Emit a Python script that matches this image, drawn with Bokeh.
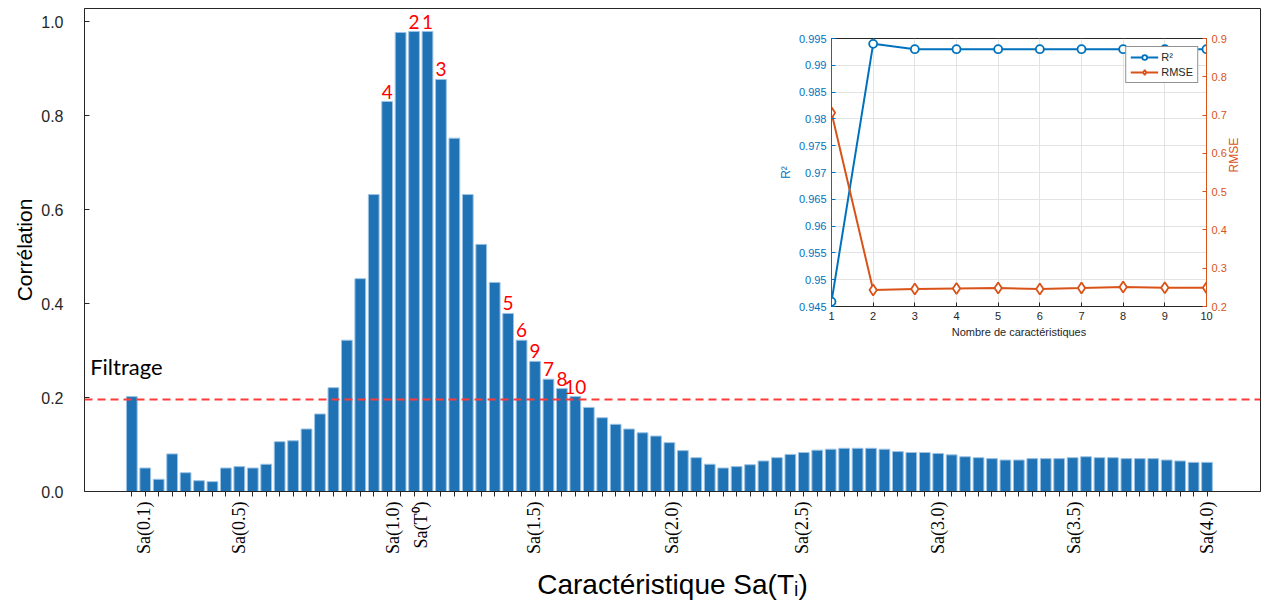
import math
from bokeh.plotting import figure
from bokeh.models import (Range1d, LinearAxis, FixedTicker, Span, Label,
                          CustomJSTickFormatter, PrintfTickFormatter, Legend, LegendItem)
from bokeh.core.properties import value
from bokeh.embed import file_html
from bokeh.resources import INLINE

# ---------------- data ----------------
correlation = [
    0.202, 0.050, 0.026, 0.080, 0.040, 0.023, 0.021, 0.050, 0.053, 0.050,
    0.058, 0.106, 0.108, 0.133, 0.165, 0.221, 0.322, 0.453, 0.632, 0.830,
    0.977, 0.979, 0.979, 0.877, 0.752, 0.632, 0.526, 0.445, 0.379, 0.322,
    0.277, 0.239, 0.219, 0.202, 0.179, 0.157, 0.143, 0.133, 0.125, 0.118,
    0.104, 0.087, 0.072, 0.058, 0.050, 0.053, 0.057, 0.065, 0.072, 0.079,
    0.083, 0.088, 0.090, 0.092, 0.092, 0.092, 0.090, 0.085, 0.083, 0.083,
    0.081, 0.078, 0.074, 0.072, 0.070, 0.067, 0.067, 0.070, 0.070, 0.070,
    0.072, 0.074, 0.072, 0.072, 0.070, 0.070, 0.070, 0.067, 0.065, 0.062,
    0.062,
]
tick_labels = ["Sa(0.1)", "Sa(0.5)", "Sa(1.0)", "Sa(T\u2070)", "Sa(1.5)",
               "Sa(2.0)", "Sa(2.5)", "Sa(3.0)", "Sa(3.5)", "Sa(4.0)"]
tick_label_bars = [0.9, 8.0, 19.4, 21.5, 29.9, 40.2, 49.9, 60.0, 70.1, 80.0]
rank_labels = ["4", "2", "1", "3", "5", "6", "9", "7", "8", "10"]
rank_bars = [19, 21, 22, 23, 28, 29, 30, 31, 32, 33]
threshold = 0.196

n_features = [1, 2, 3, 4, 5, 6, 7, 8, 9, 10]
r2 = [0.9459, 0.9940, 0.9930, 0.9930, 0.9930, 0.9930, 0.9930, 0.9930, 0.9930, 0.9930]
rmse = [0.706, 0.243, 0.246, 0.247, 0.248, 0.246, 0.248, 0.251, 0.249, 0.249]

DARK = "#262626"
BAR = "#1f73b4"
BLUE = "#0072BD"
ORANGE = "#D95319"

# ---------------- main figure ----------------
bar_x = list(range(len(correlation)))
p = figure(width=1255, height=600, x_range=Range1d(-3.52, 83.98), y_range=Range1d(0, 1.028),
           output_backend="svg", toolbar_location=None,
           min_border_left=76, min_border_right=3, min_border_top=0, min_border_bottom=117)
p.xgrid.visible = False
p.ygrid.visible = False
p.outline_line_color = DARK
p.background_fill_color = "white"
p.border_fill_color = "white"

p.vbar(x=bar_x, top=correlation, width=0.8, fill_color=BAR, line_color="#9cc3e4", line_width=1)

p.add_layout(Span(location=threshold, dimension="width", line_color="#ff3a3a",
                  line_dash="8 5", line_width=2))
p.add_layout(Label(x=-3.1, y=0.266, text="Filtrage", text_font="Lato", text_font_size="22px",
                   text_color="black", text_baseline="alphabetic"))

p.text(x=rank_bars, y=[correlation[i] for i in rank_bars], text=rank_labels,
       text_align="center", text_baseline="bottom", y_offset=-3,
       text_color="#ff0000", text_font=value("Lato"), text_font_size="19px")

fmt = CustomJSTickFormatter(args=dict(pos=tick_label_bars, labels=tick_labels), code="""
const i = pos.findIndex(v => Math.abs(v - tick) < 1e-6);
return i >= 0 ? labels[i] : "";
""")
xa = p.xaxis[0]
xa.ticker = FixedTicker(ticks=tick_label_bars, minor_ticks=bar_x)
xa.formatter = fmt
xa.major_tick_out = 0
xa.major_tick_in = 0
xa.minor_tick_out = 5
xa.minor_tick_in = 0
xa.minor_tick_line_color = DARK
xa.axis_line_color = DARK
xa.major_label_orientation = math.pi / 2
xa.major_label_text_font = "Liberation Serif"
xa.major_label_text_font_size = "18px"
xa.major_label_text_color = "black"
xa.major_label_standoff = 5
xa.axis_label = "Caractéristique Sa(T\u1d62)"
xa.axis_label_text_font = "Liberation Sans"
xa.axis_label_text_font_size = "28px"
xa.axis_label_text_font_style = "normal"
xa.axis_label_text_color = "black"
xa.axis_label_standoff = 12

ya = p.yaxis[0]
ya.ticker = FixedTicker(ticks=[0, 0.2, 0.4, 0.6, 0.8, 1.0])
ya.formatter = PrintfTickFormatter(format="%.1f")
ya.major_tick_out = 0
ya.major_tick_in = 5
ya.minor_tick_out = 0
ya.minor_tick_in = 0
ya.axis_line_color = DARK
ya.major_tick_line_color = DARK
ya.major_label_text_font = "Liberation Sans"
ya.major_label_text_font_size = "16px"
ya.major_label_text_color = DARK
ya.major_label_standoff = 21
ya.axis_label = "Corrélation"
ya.axis_label_text_font = "Liberation Sans"
ya.axis_label_text_font_size = "21px"
ya.axis_label_text_font_style = "normal"
ya.axis_label_text_color = "black"
ya.axis_label_standoff = 2

p.styles = {"position": "absolute", "left": "8px", "top": "8px"}

# ---------------- inset figure ----------------
q = figure(width=475, height=315, x_range=Range1d(1, 10), y_range=Range1d(0.945, 0.995),
           output_backend="svg", toolbar_location=None,
           min_border_left=54, min_border_right=43, min_border_top=8, min_border_bottom=39)
q.extra_y_ranges = {"rmse": Range1d(0.2, 0.9)}
q.outline_line_color = DARK
q.background_fill_color = "white"
q.border_fill_color = "white"

num_fmt = CustomJSTickFormatter(code="return parseFloat(tick.toFixed(4)).toString();")

qx = q.xaxis[0]
qx.ticker = FixedTicker(ticks=n_features)
qx.major_tick_in = 4
qx.major_tick_out = 0
qx.minor_tick_in = 0
qx.minor_tick_out = 0
qx.axis_line_color = DARK
qx.major_tick_line_color = DARK
qx.major_label_text_font = "Liberation Sans"
qx.major_label_text_font_size = "11px"
qx.major_label_text_color = DARK
qx.major_label_standoff = 5
qx.axis_label = "Nombre de caractéristiques"
qx.axis_label_text_font = "Liberation Sans"
qx.axis_label_text_font_size = "11px"
qx.axis_label_text_font_style = "normal"
qx.axis_label_text_color = DARK
qx.axis_label_standoff = 3

qy = q.yaxis[0]
qy.ticker = FixedTicker(ticks=[0.945, 0.95, 0.955, 0.96, 0.965, 0.97, 0.975, 0.98, 0.985, 0.99, 0.995])
qy.formatter = num_fmt
qy.major_tick_in = 4
qy.major_tick_out = 0
qy.minor_tick_in = 0
qy.minor_tick_out = 0
qy.axis_line_color = BLUE
qy.major_tick_line_color = BLUE
qy.major_label_text_font = "Liberation Sans"
qy.major_label_text_font_size = "11px"
qy.major_label_text_color = BLUE
qy.major_label_standoff = 5
qy.axis_label = "R\u00b2"
qy.axis_label_text_font = "Liberation Sans"
qy.axis_label_text_font_size = "12px"
qy.axis_label_text_font_style = "normal"
qy.axis_label_text_color = BLUE
qy.axis_label_standoff = 3

qr = LinearAxis(y_range_name="rmse", ticker=FixedTicker(ticks=[0.2, 0.3, 0.4, 0.5, 0.6, 0.7, 0.8, 0.9]),
                formatter=num_fmt)
qr.major_tick_in = 4
qr.major_tick_out = 0
qr.minor_tick_in = 0
qr.minor_tick_out = 0
qr.axis_line_color = ORANGE
qr.major_tick_line_color = ORANGE
qr.major_label_text_font = "Liberation Sans"
qr.major_label_text_font_size = "11px"
qr.major_label_text_color = ORANGE
qr.major_label_standoff = 5
qr.axis_label = "RMSE"
qr.axis_label_orientation = math.pi / 2
qr.axis_label_text_font = "Liberation Sans"
qr.axis_label_text_font_size = "12px"
qr.axis_label_text_font_style = "normal"
qr.axis_label_text_color = ORANGE
qr.axis_label_standoff = 4
q.add_layout(qr, "right")

q.xgrid.grid_line_color = "#e3e3e3"
q.ygrid.grid_line_color = "#e3e3e3"

l1 = q.line(n_features, r2, line_color=BLUE, line_width=2)
s1 = q.scatter(n_features, r2, marker="circle", size=8, line_color=BLUE, line_width=1.8,
               fill_color="white")
l2 = q.line(n_features, rmse, line_color=ORANGE, line_width=2, y_range_name="rmse")
s2 = q.scatter(n_features, rmse, marker="diamond", size=11, line_color=ORANGE, line_width=1.8,
               fill_color="white", y_range_name="rmse")

legend = Legend(items=[LegendItem(label="R\u00b2", renderers=[l1, s1]),
                       LegendItem(label="RMSE", renderers=[l2, s2])],
                location="top_right")
legend.label_text_font = "Liberation Sans"
legend.label_text_font_size = "11px"
legend.label_text_color = DARK
legend.glyph_width = 28
legend.glyph_height = 12
legend.label_height = 12
legend.label_standoff = 3
legend.spacing = 3
legend.padding = 4
legend.margin = 8
legend.border_line_color = DARK
legend.background_fill_color = "white"
legend.background_fill_alpha = 1
q.add_layout(legend)

q.styles = {"position": "absolute", "left": "775px", "top": "30px", "z-index": "10"}

open("out.html", "w").write(file_html([p, q], INLINE))
